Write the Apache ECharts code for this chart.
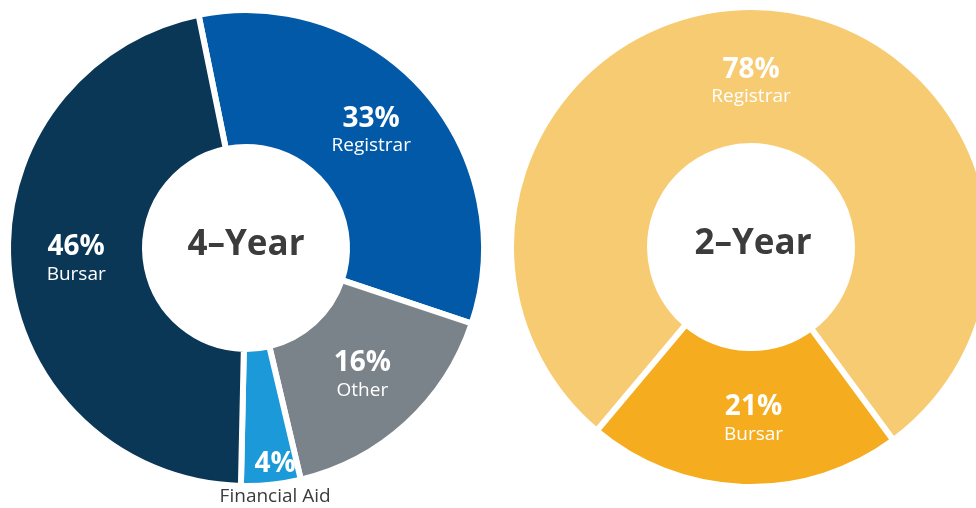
<!DOCTYPE html>
<html>
<head>
<meta charset="utf-8">
<script src="https://cdn.jsdelivr.net/npm/echarts@6/dist/echarts.min.js"></script>
<style>
    html, body { margin: 0; padding: 0; background: #fff; }
    #chart { width: 976px; height: 508px; }
</style>
</head>
<body>
<div id="chart"></div>
<script>
    // data
    const fourYearNames = ['Registrar', 'Other', 'Financial Aid', 'Bursar'];
    const fourYearValues = [33, 16, 4, 46];
    const twoYearNames = ['Registrar', 'Bursar'];
    const twoYearValues = [78, 21];
    const centerTitles = ['4–Year', '2–Year'];

    const fourYearColors = ['#0159a7', '#7b838a', '#1b99d8', '#0b3757'];
    const twoYearColors = ['#f7cb71', '#f5ad1f'];
    // per-slice label nudges (padding shifts the text box around its anchor)
    const fourYearPad = [[0, 8, 6, 0], [0, 0, 0, 0], [125, 0, 0, 22], [0, 0, 8, 4]];
    const twoYearPad = [[17, 11, 0, 0], [0, 0, 2, 16]];

    const font = '"Open Sans", "Noto Sans", sans-serif';
    const textDark = '#3c3c3c';

    const rich = {
        p: { color: '#fff', fontFamily: font, fontWeight: 'bold', fontSize: 28, lineHeight: 30 },
        n: { color: '#fff', fontFamily: font, fontSize: 19, lineHeight: 24 },
        f: { color: textDark, fontFamily: font, fontSize: 19, lineHeight: 36 }
    };

    function buildData(names, values, colors, pads) {
        return names.map((name, i) => {
            let item = {
                name: name,
                value: values[i],
                itemStyle: { color: colors[i] },
                label: { padding: pads[i] }
            };
            // financial aid: only the % inside, the name sits below the ring
            if (name === 'Financial Aid') {
                item.label.formatter = '{p|{c}%}\n{f|{b}}';
            }
            return item;
        });
    }

    function pieSeries(center, radius, startAngle, data) {
        return {
            type: 'pie',
            center: center,
            radius: radius,
            startAngle: startAngle,
            clockwise: true,
            silent: true,
            itemStyle: { borderColor: '#fff', borderWidth: 6 },
            label: {
                show: true,
                position: 'inside',
                formatter: '{p|{c}%}\n{n|{b}}',
                rich: rich
            },
            labelLine: { show: false },
            emphasis: { disabled: true },
            data: data
        };
    }

    const chart = echarts.init(document.getElementById('chart'));
    chart.setOption({
        animation: false,
        backgroundColor: '#fff',
        graphic: [
            {
                type: 'text', x: 246, y: 245,
                style: { text: centerTitles[0], fill: textDark, font: 'bold 35px ' + font, align: 'center', verticalAlign: 'middle' }
            },
            {
                type: 'text', x: 753, y: 244,
                style: { text: centerTitles[1], fill: textDark, font: 'bold 35px ' + font, align: 'center', verticalAlign: 'middle' }
            }
        ],
        series: [
            pieSeries([246, 248], [101, 238], 101.5, buildData(fourYearNames, fourYearValues, fourYearColors, fourYearPad)),
            pieSeries([751, 247], [101, 240], 230, buildData(twoYearNames, twoYearValues, twoYearColors, twoYearPad))
        ]
    });
</script>
</body>
</html>
